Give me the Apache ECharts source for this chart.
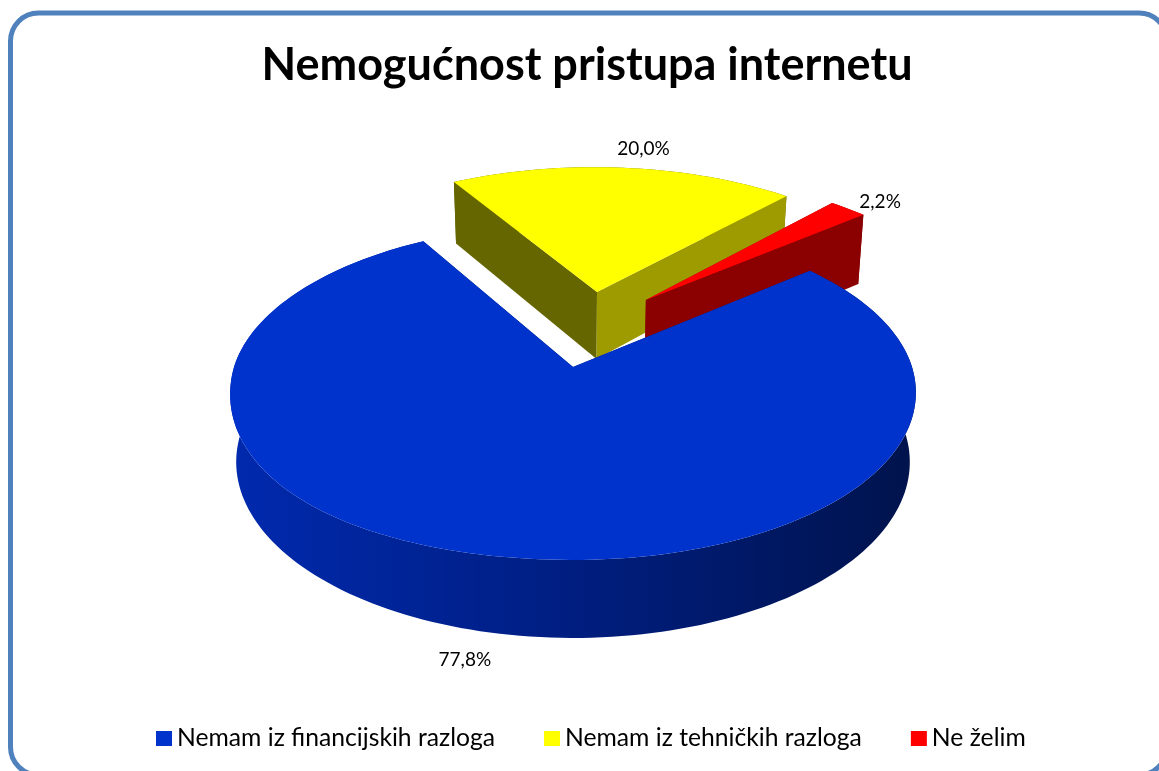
<!DOCTYPE html>
<html>
<head>
<meta charset="utf-8">
<style>
  html, body { margin: 0; padding: 0; background: #fff; overflow: hidden; }
  #chart { width: 1159px; height: 771px; }
</style>
<script src="https://cdn.jsdelivr.net/npm/echarts@6/dist/echarts.min.js"></script>
</head>
<body>
<div id="chart"></div>
<script>
const titleText = 'Nemogućnost pristupa internetu'
const categories = ['Nemam iz financijskih razloga', 'Nemam iz tehničkih razloga', 'Ne želim']
const values = [77.8, 20.0, 2.2]

// slice styling
const topColors = ['#0033cc', '#ffff00', '#ff0000']
const startWallColors = ['#001a66', '#666600', '#8b0000']
const endWallColors = ['#001a66', '#9e9b00', '#8b0000']
const arcWallColors = [null, '#666600', '#8b0000']
const sliceZ = [4, 2, 3]

// slice layout: explode offset on the pie plane, wall drop and label nudge in px
const explodeU = [0, 0.076, 0.229]
const explodeV = [0, 0.491, 0.435]
const wallDrop = [0, 2, 8]
const labelDx = [-40, 20, 32]
const labelDy = [26, -19, -7]

// tilted pie camera: top and bottom plane of the disc
// sagLeft/sagRight: the front rim of the top face hangs a bit lower than a true ellipse
const startAngle = 50
const persp = 0.15
const topPlane = { cx: 573, cy: 367, a: 339, b: 164, sagLeft: 14, sagRight: 3 }
const bottomPlane = { cx: 573, cy: 435.6, a: 333, b: 172, sagLeft: 0, sagRight: 0 }

const project = (plane, u, v) => {
  const w = 1 + persp * v
  const sag = v < 0 ? (u < 0 ? plane.sagLeft : plane.sagRight) * u * u * -v : 0
  return [plane.cx + plane.a * u / w, plane.cy - plane.b * v / w + sag]
}

const total = values.reduce((a, b) => a + b, 0)
const sliceAngles = values.map((val, i) => {
  const before = values.slice(0, i).reduce((a, b) => a + b, 0)
  return [startAngle + before / total * 360, startAngle + (before + val) / total * 360]
})

const rimPoint = (plane, i, deg) => {
  const rad = deg * Math.PI / 180
  return project(plane, Math.sin(rad) + explodeU[i], Math.cos(rad) + explodeV[i])
}

const rimArc = (plane, i) => {
  const [a0, a1] = sliceAngles[i]
  const steps = Math.ceil((a1 - a0) / 1.5)
  const pts = []
  for (let s = 0; s <= steps; s++) {
    pts.push(rimPoint(plane, i, a0 + (a1 - a0) * s / steps))
  }
  return pts
}

const blueWall = new echarts.graphic.LinearGradient(236, 0, 911, 0, [
  { offset: 0, color: '#0029ad' },
  { offset: 0.45, color: '#001f85' },
  { offset: 1, color: '#00134d' }
], true)

const poly = (points, fill) => ({ type: 'polygon', shape: { points }, style: { fill } })

const renderSlice = (i) => (params, api) => {
  const drop = (p) => [p[0], p[1] + wallDrop[i]]
  const apexTop = project(topPlane, explodeU[i], explodeV[i])
  const apexBottom = drop(project(bottomPlane, explodeU[i], explodeV[i]))
  const topArc = rimArc(topPlane, i)
  const bottomArc = rimArc(bottomPlane, i).map(drop)
  const last = topArc.length - 1
  const [a0, a1] = sliceAngles[i]
  const mid = (a0 + a1) / 2
  // front of the disc hangs the label off the bottom plane, the rest off the top one
  const anchor = rimPoint(i === 0 ? bottomPlane : topPlane, i, mid)
  const label = api.value(0).toFixed(1).replace('.', ',') + '%'

  return {
    type: 'group',
    children: [
      poly(topArc.concat(bottomArc.slice().reverse()), arcWallColors[i] || blueWall),
      poly([apexTop, topArc[0], bottomArc[0], apexBottom], startWallColors[i]),
      poly([apexTop, topArc[last], bottomArc[last], apexBottom], endWallColors[i]),
      poly([apexTop].concat(topArc), topColors[i]),
      {
        type: 'text',
        x: anchor[0] + labelDx[i],
        y: anchor[1] + labelDy[i],
        style: {
          text: label,
          fill: '#000',
          font: '19px Lato',
          textAlign: 'center',
          textVerticalAlign: 'middle'
        }
      }
    ]
  }
}

const chart = echarts.init(document.getElementById('chart'))

chart.setOption({
  animation: false,
  title: {
    text: titleText,
    left: 582,
    top: 38,
    textAlign: 'center',
    textStyle: { fontFamily: 'Lato', fontWeight: 'bold', fontSize: 45, color: '#000' }
  },
  legend: {
    left: 151,
    top: 721,
    selectedMode: false,
    icon: 'rect',
    itemWidth: 16,
    itemHeight: 15,
    itemGap: 49,
    textStyle: { fontFamily: 'Lato', fontSize: 24.7, color: '#000' },
    data: categories
  },
  graphic: [
    {
      type: 'rect',
      z: -1,
      silent: true,
      shape: { x: 10.5, y: 13, width: 1156.5, height: 762, r: 28 },
      style: { fill: '#fff', stroke: '#4f81bd', lineWidth: 5 }
    }
  ],
  series: categories.map((name, i) => ({
    type: 'custom',
    name,
    coordinateSystem: 'none',
    z: sliceZ[i],
    silent: true,
    itemStyle: { color: topColors[i] },
    renderItem: renderSlice(i),
    data: [[values[i]]]
  }))
})

window.addEventListener('resize', () => {
  chart.resize()
})
</script>
</body>
</html>
